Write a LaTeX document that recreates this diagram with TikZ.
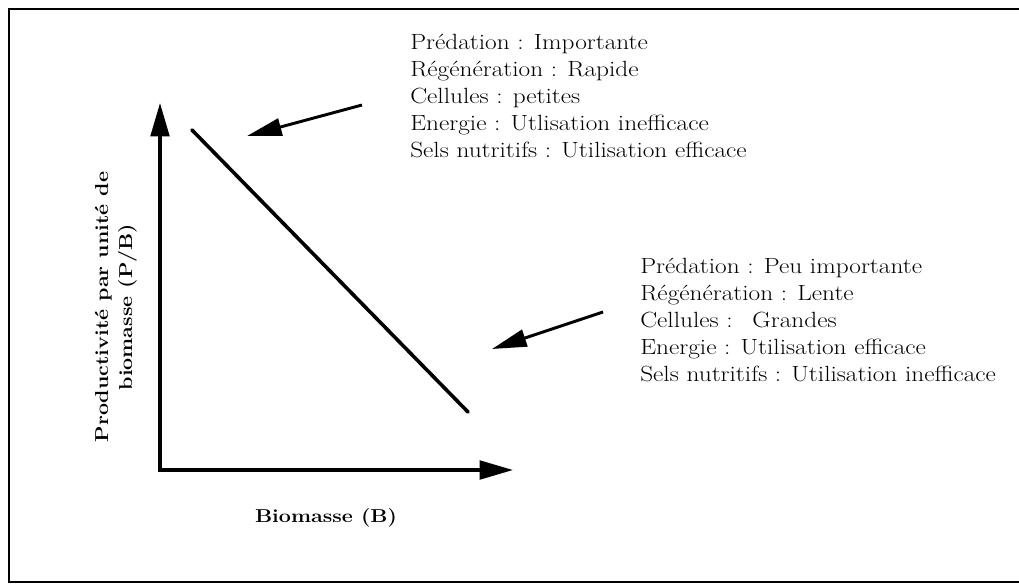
\documentclass[tikz,border=0pt]{standalone}
\usepackage{fontspec}
\setmainfont{Latin Modern Roman}[FakeStretch=1.15]
\usetikzlibrary{arrows.meta,positioning}

\tikzset{
    axes/.style={line width=2.3pt, line join=miter,
        {Triangle[length=25pt,width=14pt]}-{Triangle[length=25pt,width=14pt]}},
    pointer/.style={line width=2.2pt, -{Triangle[length=26pt,width=13pt]}},
    infotext/.style={align=left, inner sep=0pt, anchor=north west,
        font=\fontsize{16.5}{20.25}\selectfont},
    axislabel/.style={align=center, inner sep=0pt,
        font=\bfseries\fontsize{14}{18}\selectfont},
}

\begin{document}
\begin{tikzpicture}[x=0.75pt, y=-0.75pt]
    \useasboundingbox (0,0) rectangle (1019,583);

    % Frame
    \draw[line width=2.2pt] (9,9) rectangle (1040,582);

    % Axes
    \coordinate (ytop) at (160,103);
    \coordinate (origin) at (160,470);
    \coordinate (xend) at (513,470);
    \draw[axes] (ytop) -- (origin) -- (xend);

    % P/B against B
    \coordinate (high) at (192,130);
    \coordinate (low) at (468,412);
    \draw[line width=2.7pt, line cap=round] (high) -- (low);

    % Axis labels
    \node[axislabel, rotate=90] (ylabel) at (116,307) {Productivité par unité de\\biomasse (P/B)};
    \node[axislabel] (xlabel) at (326,518) {Biomasse (B)};

    % Small cells
    \node[infotext] (small) at (410,34) {Prédation : Importante\\
        Régénération : Rapide\\
        Cellules : petites\\
        Energie : Utlisation inefficace\\
        Sels nutritifs : Utilisation efficace};

    % Large cells
    \node[infotext] (large) at (640,258) {Prédation : Peu importante\\
        Régénération : Lente\\
        Cellules :\hspace{0.9em}Grandes\\
        Energie : Utilisation efficace\\
        Sels nutritifs : Utilisation inefficace};

    % Arrows
    \coordinate (smalltail) at (362,105);
    \coordinate (smalltip) at (247,136);
    \coordinate (largetail) at (603,312);
    \coordinate (largetip) at (492,349);
    \draw[pointer] (smalltail) -- (smalltip);
    \draw[pointer] (largetail) -- (largetip);
\end{tikzpicture}
\end{document}
